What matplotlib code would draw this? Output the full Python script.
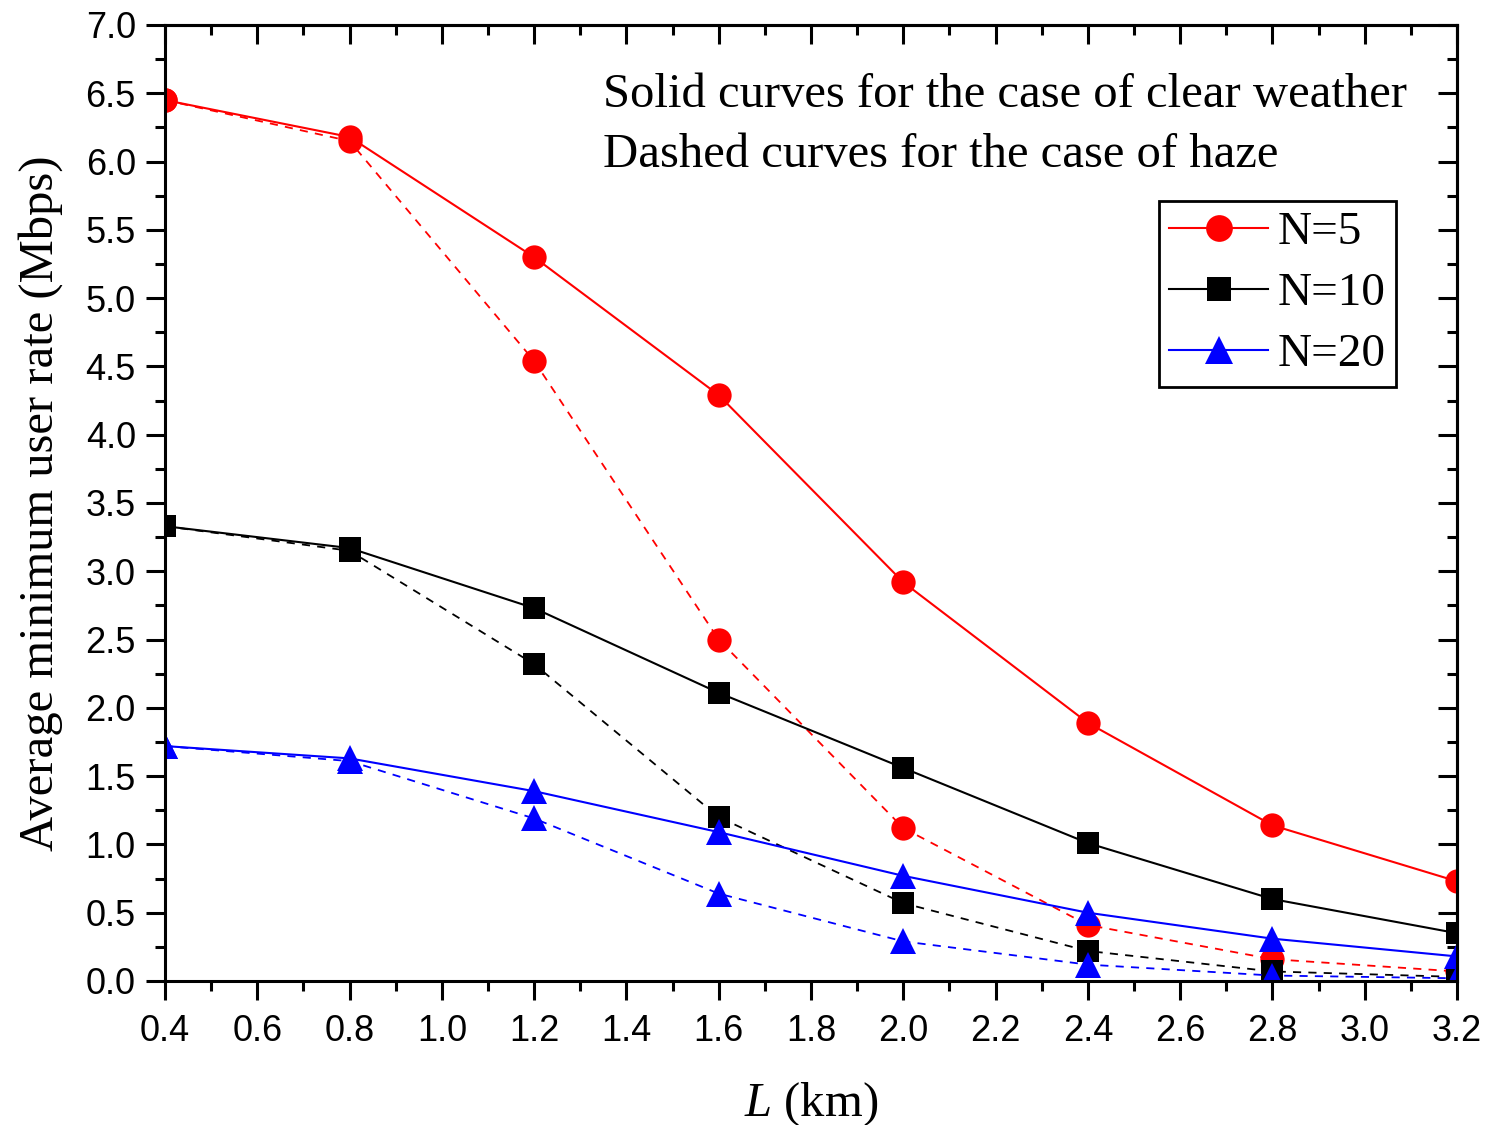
import matplotlib
matplotlib.use('Agg')
import matplotlib.pyplot as plt
from matplotlib.ticker import MultipleLocator

# 数据
L_km = [0.4, 0.8, 1.2, 1.6, 2.0, 2.4, 2.8, 3.2]
n5_clear = [6.45, 6.18, 5.30, 4.29, 2.92, 1.89, 1.14, 0.73]
n5_haze = [6.45, 6.15, 4.54, 2.50, 1.12, 0.41, 0.16, 0.07]
n10_clear = [3.33, 3.17, 2.73, 2.11, 1.56, 1.01, 0.60, 0.35]
n10_haze = [3.33, 3.15, 2.32, 1.20, 0.57, 0.22, 0.07, 0.03]
n20_clear = [1.72, 1.63, 1.39, 1.09, 0.77, 0.50, 0.31, 0.18]
n20_haze = [1.72, 1.61, 1.19, 0.64, 0.29, 0.12, 0.04, 0.02]
labels = ['N=5', 'N=10', 'N=20']

serif = 'Liberation Serif'
sans = 'Liberation Sans'
plt.rcParams['mathtext.fontset'] = 'custom'
plt.rcParams['mathtext.it'] = 'Liberation Serif:italic'
plt.rcParams['mathtext.rm'] = 'Liberation Serif'

fig = plt.figure(figsize=(14.92, 11.25), dpi=100)
ax = fig.add_axes([0.1106, 0.128, 0.8659, 0.8498])

series = [
    (n5_clear, n5_haze, '#ff0000', 'o', 17.5),
    (n10_clear, n10_haze, '#000000', 's', 15.5),
    (n20_clear, n20_haze, '#0000ff', '^', 18.5),
]
handles = []
for (clear, haze, c, m, ms), lab in zip(series, labels):
    ax.plot(L_km, haze, color=c, lw=1.3, linestyle=(0, (4.5, 4)),
            marker=m, markersize=ms, markeredgewidth=0)
    h, = ax.plot(L_km, clear, color=c, lw=1.5, marker=m, markersize=ms,
                 markeredgewidth=0, label=lab)
    handles.append(h)

ax.set_xlim(0.4, 3.2)
ax.set_ylim(0, 7)
ax.xaxis.set_major_locator(MultipleLocator(0.2))
ax.xaxis.set_minor_locator(MultipleLocator(0.1))
ax.yaxis.set_major_locator(MultipleLocator(0.5))
ax.yaxis.set_minor_locator(MultipleLocator(0.25))
ax.tick_params(which='major', direction='out', length=14, width=2.2,
               labelsize=26, pad=7)
ax.tick_params(axis='x', which='major', pad=10)
ax.tick_params(which='minor', direction='out', length=7, width=2.2)
for t in ax.get_xticklabels() + ax.get_yticklabels():
    t.set_fontfamily(sans)
for s in ax.spines.values():
    s.set_linewidth(2.2)

# 顶部和右侧刻度向内
top = ax.secondary_xaxis('top')
top.xaxis.set_major_locator(MultipleLocator(0.2))
top.xaxis.set_minor_locator(MultipleLocator(0.1))
top.tick_params(which='major', direction='in', length=14, width=2.2, labeltop=False)
top.tick_params(which='minor', direction='in', length=7, width=2.2)
top.spines['top'].set_linewidth(2.2)
right = ax.secondary_yaxis('right')
right.yaxis.set_major_locator(MultipleLocator(0.5))
right.yaxis.set_minor_locator(MultipleLocator(0.25))
right.tick_params(which='major', direction='in', length=14, width=2.2, labelright=False)
right.tick_params(which='minor', direction='in', length=7, width=2.2)
right.spines['right'].set_linewidth(2.2)

ax.set_xlabel('$L$ (km)', fontsize=35, fontfamily=serif, labelpad=22)
ax.set_ylabel('Average minimum user rate (Mbps)', fontsize=35, fontfamily=serif, labelpad=16)

ax.text(0.339, 0.927, 'Solid curves for the case of clear weather', transform=ax.transAxes,
        fontsize=35, fontfamily=serif, va='center', ha='left')
ax.text(0.339, 0.864, 'Dashed curves for the case of haze', transform=ax.transAxes,
        fontsize=35, fontfamily=serif, va='center', ha='left')

leg = ax.legend(handles=handles, loc='upper right', bbox_to_anchor=(0.953, 0.816),
                prop={'family': serif, 'size': 34}, handlelength=2.1, markerscale=1.1,
                handletextpad=0.2, borderpad=0.22, labelspacing=0.38,
                fancybox=False, framealpha=1, edgecolor='black', borderaxespad=0)
leg.get_frame().set_linewidth(2)

fig.savefig('out.png', dpi=100)
